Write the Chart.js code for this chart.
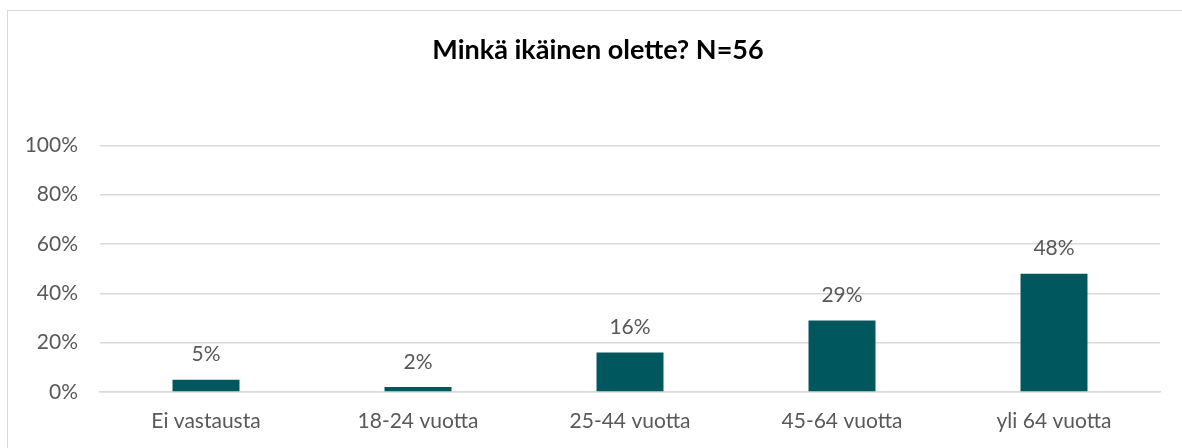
<!DOCTYPE html>
<html>
<head>
<meta charset="utf-8">
<script src="https://cdn.jsdelivr.net/npm/chart.js@4/dist/chart.umd.min.js"></script>
<style>
  html, body { margin: 0; padding: 0; background: #fff; overflow: hidden; }
  #frame { position: absolute; left: 7px; top: 10px; width: 1200px; height: 460px; border: 1.5px solid #d9d9d9; }
  #wrap { position: absolute; left: 0; top: 0; width: 1196px; height: 448px; }
</style>
</head>
<body>
<div id="frame"></div>
<div id="wrap"><canvas id="ageChart"></canvas></div>
<script>
// values (percent)
const categories = ['Ei vastausta', '18-24 vuotta', '25-44 vuotta', '45-64 vuotta', 'yli 64 vuotta'];
const shares = [5, 2, 16, 29, 48];
const tickValues = [0, 20, 40, 60, 80, 100];

const textColor = '#595959';
const fontFamily = 'Lato, "Open Sans", sans-serif';

// draws the percent label above each bar
const valueLabels = {
    id: 'valueLabels',
    afterDatasetsDraw(chart) {
        const ctx = chart.ctx;
        const meta = chart.getDatasetMeta(0);
        ctx.save();
        ctx.fillStyle = textColor;
        ctx.font = '21px ' + fontFamily;
        ctx.textAlign = 'center';
        ctx.textBaseline = 'middle';
        meta.data.forEach(function (bar, i) {
            ctx.fillText(shares[i] + '%', bar.x, bar.y - 25);
        });
        ctx.restore();
    }
};

const ctx = document.getElementById('ageChart').getContext('2d');
new Chart(ctx, {
    type: 'bar',
    data: {
        labels: categories,
        datasets: [{
            data: shares,
            backgroundColor: '#00585e',
            barPercentage: 0.316,
            categoryPercentage: 1
        }]
    },
    options: {
        responsive: true,
        maintainAspectRatio: false,
        animation: false,
        layout: { padding: 0 },
        plugins: {
            legend: { display: false },
            tooltip: { enabled: false },
            title: {
                display: true,
                text: 'Minkä ikäinen olette? N=56',
                color: '#000',
                font: { family: fontFamily, size: 27, weight: 'bold' },
                padding: { top: 34, bottom: 79 }
            }
        },
        scales: {
            x: {
                afterFit: function (scale) { scale.height = 56; },
                grid: { display: false, drawTicks: false },
                border: { color: '#d9d9d9', width: 1.5 },
                ticks: {
                    color: textColor,
                    padding: 17,
                    font: { family: fontFamily, size: 21 }
                }
            },
            y: {
                min: 0,
                max: 100,
                afterBuildTicks: function (scale) {
                    scale.ticks = tickValues.map(v => ({ value: v }));
                },
                afterFit: function (scale) { scale.width = 100; },
                grid: { color: '#d9d9d9', lineWidth: 1.5, drawTicks: false },
                border: { display: false },
                ticks: {
                    color: textColor,
                    padding: 22,
                    font: { family: fontFamily, size: 21 },
                    callback: v => v + '%'
                }
            },
            // empty right-hand spacer so the title centres like the original
            spacer: {
                type: 'linear',
                position: 'right',
                afterFit: function (scale) { scale.width = 36; },
                grid: { display: false, drawTicks: false },
                border: { display: false },
                ticks: { display: false }
            }
        }
    },
    plugins: [valueLabels]
});
</script>
</body>
</html>
